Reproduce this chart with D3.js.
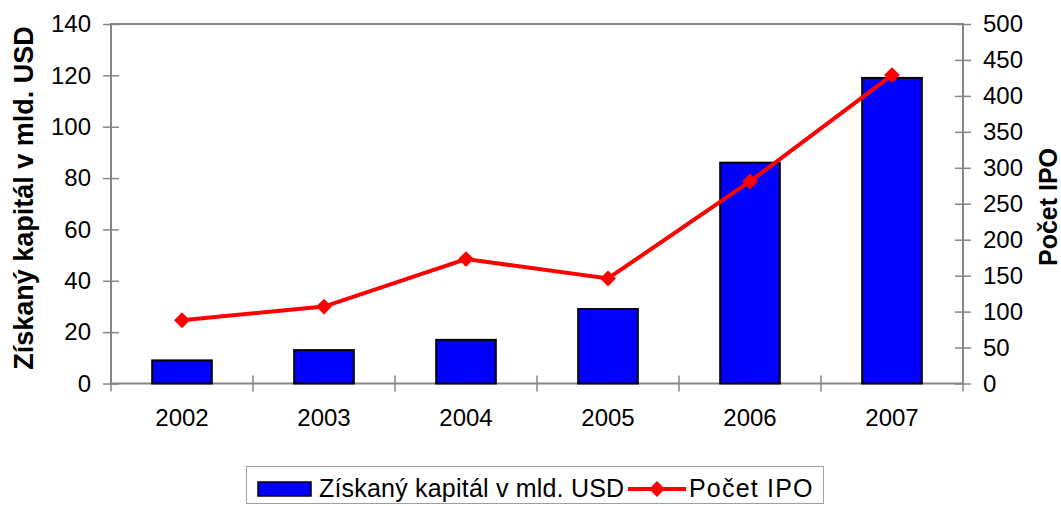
<!DOCTYPE html>
<html>
<head>
<meta charset="utf-8">
<script src="https://cdn.jsdelivr.net/npm/d3@7"></script>
<style>
    body { margin: 0; background: #fff; }
    svg text { font-family: "Liberation Sans", Arial, sans-serif; fill: #000; }
</style>
</head>
<body>
<div id="chart"></div>
<script>
(function() {
    var years = ["2002", "2003", "2004", "2005", "2006", "2007"];
    var capital = [9, 13, 17, 29, 86, 119];       // Získaný kapitál v mld. USD
    var ipoCount = [88, 107, 173, 146, 281, 429];  // Počet IPO
    var leftTicks = [0, 20, 40, 60, 80, 100, 120, 140];
    var rightTicks = [0, 50, 100, 150, 200, 250, 300, 350, 400, 450, 500];

    var width = 1061,
        height = 506;

    var plot = {left: 111, right: 963, top: 24, bottom: 383.5};

    var svg = d3.select("#chart")
        .append("svg")
        .attr("width", width)
        .attr("height", height);

    var x = d3.scaleBand()
        .domain(years)
        .range([plot.left, plot.right])
        .paddingInner(0.58)
        .paddingOuter(0.29);

    var xCat = d3.scaleBand()
        .domain(years)
        .range([plot.left, plot.right]);

    var yLeft = d3.scaleLinear()
        .domain([0, 140])
        .range([plot.bottom, plot.top]);

    var yRight = d3.scaleLinear()
        .domain([0, 500])
        .range([plot.bottom, plot.top]);

    var axisColor = "#868686";

    // left axis
    var gl = svg.append("g")
        .attr("transform", "translate(" + plot.left + ",0)")
        .call(d3.axisLeft(yLeft).tickValues(leftTicks).tickSize(8).tickPadding(12));
    gl.selectAll(".tick line").attr("x2", -8).attr("x1", 8);

    // right axis
    var gr = svg.append("g")
        .attr("transform", "translate(" + plot.right + ",0)")
        .call(d3.axisRight(yRight).tickValues(rightTicks).tickSize(8).tickPadding(12));
    gr.selectAll(".tick line").attr("x1", -8).attr("x2", 8);

    // bottom axis: ticks at category boundaries
    var gb = svg.append("g")
        .attr("transform", "translate(0," + plot.bottom + ")")
        .call(d3.axisBottom(xCat).tickSize(0).tickPadding(25));
    gb.select(".domain").remove();
    var bounds = years.map(function(d) { return xCat(d); }).concat([plot.right]);
    gb.selectAll(".bound")
        .data(bounds)
        .enter().append("line")
        .attr("class", "bound")
        .attr("x1", function(d) { return d; })
        .attr("x2", function(d) { return d; })
        .attr("y1", -8)
        .attr("y2", 8)
        .attr("stroke", axisColor)
        .attr("stroke-width", 1.5);

    [gl, gr, gb].forEach(function(g) {
        g.attr("font-size", null).attr("font-family", null);
        g.select(".domain").remove();
        g.selectAll(".tick line").attr("stroke", axisColor).attr("stroke-width", 1.5);
    });
    svg.selectAll(".tick text").style("font-size", "24px");

    // plot frame
    svg.append("rect")
        .attr("x", plot.left).attr("y", plot.top)
        .attr("width", plot.right - plot.left)
        .attr("height", plot.bottom - plot.top)
        .attr("fill", "none")
        .attr("stroke", axisColor).attr("stroke-width", 2);

    // bars
    svg.selectAll(".bar")
        .data(capital)
        .enter().append("rect")
        .attr("class", "bar")
        .attr("x", function(d, i) { return x(years[i]); })
        .attr("y", function(d) { return yLeft(d); })
        .attr("width", x.bandwidth())
        .attr("height", function(d) { return plot.bottom - yLeft(d); })
        .attr("fill", "#0000ff")
        .attr("stroke", "#000")
        .attr("stroke-width", 2);

    // line
    var line = d3.line()
        .x(function(d, i) { return xCat(years[i]) + xCat.bandwidth() / 2; })
        .y(function(d) { return yRight(d); });

    svg.append("path")
        .datum(ipoCount)
        .attr("d", line)
        .attr("fill", "none")
        .attr("stroke", "#ff0000")
        .attr("stroke-width", 4);

    var diamond = d3.symbol().type(d3.symbolDiamond2).size(160);
    svg.selectAll(".marker")
        .data(ipoCount)
        .enter().append("path")
        .attr("class", "marker")
        .attr("d", diamond)
        .attr("transform", function(d, i) {
            return "translate(" + (xCat(years[i]) + xCat.bandwidth() / 2) + "," + yRight(d) + ")";
        })
        .attr("fill", "#ff0000");

    // axis titles
    svg.append("text")
        .attr("transform", "translate(33,198) rotate(-90)")
        .attr("text-anchor", "middle")
        .style("font-size", "27px")
        .style("font-weight", "bold")
        .text("Získaný kapitál v mld. USD");

    svg.append("text")
        .attr("transform", "translate(1057,207) rotate(-90)")
        .attr("text-anchor", "middle")
        .style("font-size", "25px")
        .style("font-weight", "bold")
        .text("Počet IPO");

    // legend
    var legend = svg.append("g");
    legend.append("rect")
        .attr("x", 246.5).attr("y", 466.5)
        .attr("width", 577).attr("height", 37)
        .attr("fill", "#fff")
        .attr("stroke", "#a0a0a0")
        .attr("stroke-width", 1);
    legend.append("rect")
        .attr("x", 258).attr("y", 482)
        .attr("width", 53).attr("height", 14)
        .attr("fill", "#0000ff")
        .attr("stroke", "#000")
        .attr("stroke-width", 1.5);
    legend.append("text")
        .attr("x", 319).attr("y", 497)
        .style("font-size", "25px")
        .style("letter-spacing", "0.2px")
        .text("Získaný kapitál v mld. USD");
    legend.append("line")
        .attr("x1", 628).attr("x2", 686)
        .attr("y1", 489).attr("y2", 489)
        .attr("stroke", "#ff0000")
        .attr("stroke-width", 4);
    legend.append("path")
        .attr("d", diamond)
        .attr("transform", "translate(657,489)")
        .attr("fill", "#ff0000");
    legend.append("text")
        .attr("x", 689).attr("y", 497)
        .style("font-size", "25px")
        .style("letter-spacing", "1.2px")
        .text("Počet IPO");
})();
</script>
</body>
</html>
